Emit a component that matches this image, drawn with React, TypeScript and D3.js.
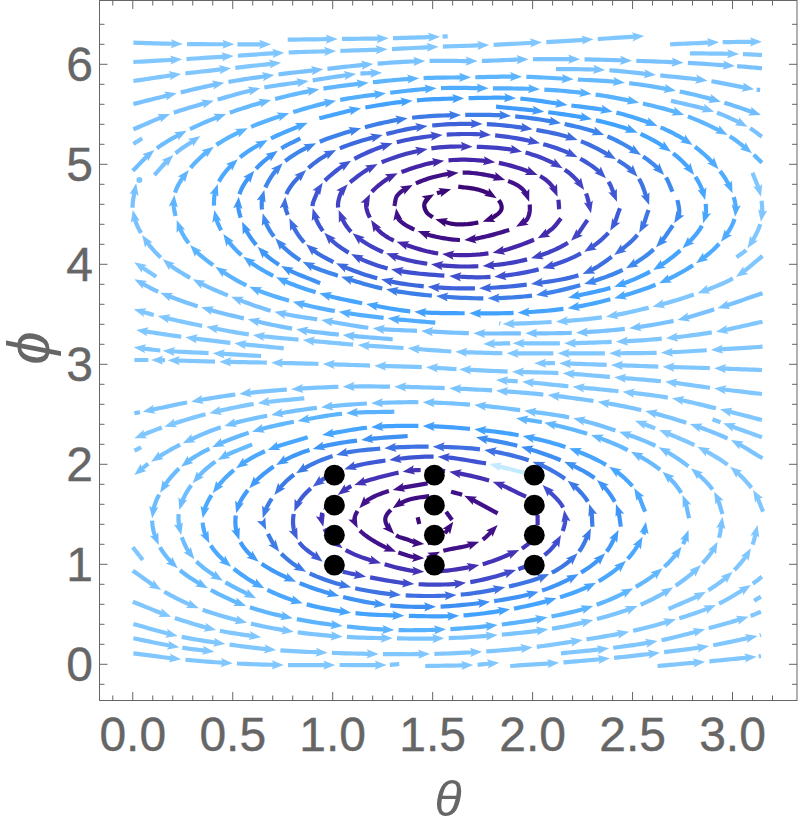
import { useMemo } from "react";
import * as d3 from "d3";

type Vertex = number[]; // [theta, phi] or [theta, phi, flag]
type Stream = { tone: number; pts: Vertex[] };

const P = 0; // curve passes through, no arrow break here
const T = 2; // line stops here without a head

const upperStreams: Stream[] = [
  { tone: 0, pts: [[0.003, 6.216], [0.25, 6.203], [0.508, 6.2], [0.692, 6.2]] },
  { tone: 0, pts: [[0.775, 6.246], [1.025, 6.253], [1.28, 6.26], [1.537, 6.276], [1.575, 6.28, T]] },
  { tone: 0, pts: [[0.003, 6.023], [0.247, 6.05], [0.505, 6.083], [0.758, 6.116], [1.017, 6.133], [1.275, 6.15], [1.53, 6.176], [1.783, 6.193], [2.047, 6.22], [2.305, 6.25], [2.558, 6.283]] },
  { tone: 0, pts: [[2.688, 6.2], [2.933, 6.22], [3.147, 6.226]] },
  { tone: 0, pts: [[2.787, 6.11], [3.033, 6.103], [3.147, 6.093, T]] },
  { tone: 0, pts: [[0.003, 5.833], [0.242, 5.903], [0.492, 5.96], [0.742, 6.016]] },
  { tone: 0.03, pts: [[0.003, 5.603], [0.22, 5.71], [0.458, 5.816], [0.708, 5.893], [0.953, 5.95], [1.203, 6.003], [1.463, 6.033], [1.725, 6.033], [1.98, 6.05], [2.238, 6.05], [2.497, 6.036], [2.755, 6.016], [3.012, 5.983], [3.147, 5.96, T]] },
  { tone: 0.03, pts: [[0.003, 5.35], [0.187, 5.503], [0.405, 5.636], [0.638, 5.76], [0.88, 5.833], [1.117, 5.903], [1.247, 5.916]] },
  { tone: 0.03, pts: [[2.117, 5.953], [2.363, 5.943], [2.617, 5.893], [2.875, 5.836], [3.108, 5.75], [3.138, 5.743, T]] },
  { tone: 0.06, pts: [[0, 4.936], [0.108, 5.143], [0.27, 5.336], [0.467, 5.503], [0.692, 5.643], [0.933, 5.75], [1.18, 5.816], [1.433, 5.86], [1.692, 5.87], [1.947, 5.876], [2.205, 5.85], [2.462, 5.816], [2.717, 5.736], [2.942, 5.626], [3.142, 5.493]] },
  { tone: 0, pts: [[0.003, 5.203], [0.047, 5.26, T]] },
  { tone: 0.12, pts: [[1.513, 3.416], [1.275, 3.46], [1.03, 3.526], [0.8, 3.626], [0.583, 3.776], [0.413, 3.976], [0.287, 4.193], [0.22, 4.443], [0.208, 4.693], [0.28, 4.943], [0.405, 5.176], [0.575, 5.36], [0.783, 5.51], [1.017, 5.636], [1.267, 5.71], [1.52, 5.76], [1.78, 5.76], [2.037, 5.75], [2.295, 5.703], [2.533, 5.616], [2.758, 5.493], [2.975, 5.293], [3.097, 5.11], [3.147, 5.016, T]] },
  { tone: 0.03, pts: [[0.108, 4.893], [0.203, 5.093], [0.338, 5.283]] },
  { tone: 0.03, pts: [[2.692, 5.636], [2.908, 5.526], [3.075, 5.376], [3.147, 5.276, T]] },
  { tone: 0.03, pts: [[3.15, 3.71], [2.925, 3.56], [2.725, 3.443], [2.483, 3.36], [2.217, 3.316], [1.963, 3.31], [1.703, 3.31], [1.442, 3.333], [1.2, 3.36], [0.942, 3.443], [0.708, 3.526], [0.492, 3.676], [0.3, 3.85], [0.15, 4.05], [0.047, 4.293], [0, 4.543], [0.017, 4.81]] },
  { tone: 0.03, pts: [[1.3, 3.25], [1.05, 3.293], [0.817, 3.35], [0.575, 3.45], [0.342, 3.57], [0.138, 3.716], [0.008, 3.85]] },
  { tone: 0, pts: [[0.117, 3.876], [0.008, 4.02]] },
  { tone: 0, pts: [[3.15, 3.426], [2.917, 3.326], [2.667, 3.26], [2.417, 3.226], [2.158, 3.21], [1.9, 3.21], [1.753, 3.203]] },
  { tone: 0, pts: [[0.642, 3.083], [0.4, 3.11], [0.15, 3.136], [0.005, 3.17]] },
  { tone: 0, pts: [[0.755, 3.16], [0.508, 3.21], [0.263, 3.27], [0.017, 3.343]] },
  { tone: 0, pts: [[3.15, 3.176], [2.892, 3.143], [2.642, 3.116], [2.383, 3.11], [2.125, 3.11], [1.87, 3.11], [1.613, 3.126], [1.375, 3.16], [1.125, 3.193], [0.85, 3.243], [0.6, 3.293], [0.367, 3.376], [0.125, 3.483], [0.005, 3.55]] },
  { tone: 0, pts: [[3.1, 4.916], [3.142, 4.676], [3.142, 4.426], [3.075, 4.16], [3.02, 4.07, T]] },
  { tone: 0, pts: [[3.15, 4.083], [3.017, 3.876], [2.825, 3.71], [2.6, 3.576], [2.367, 3.476], [2.117, 3.426], [1.85, 3.403], [1.833, 3.41, T]] },
  { tone: 0.2, pts: [[0.933, 5.46], [1.142, 5.56], [1.4, 5.636], [1.658, 5.66], [1.917, 5.66], [2.175, 5.593], [2.4, 5.526], [2.625, 5.383], [2.8, 5.193], [2.93, 4.95], [3, 4.71], [3.013, 4.476], [2.942, 4.226], [2.817, 4.01], [2.633, 3.81], [2.408, 3.66], [2.175, 3.56], [1.925, 3.516], [1.683, 3.51], [1.408, 3.526], [1.167, 3.603], [0.933, 3.71], [0.717, 3.87], [0.553, 4.076], [0.453, 4.303], [0.408, 4.543], [0.425, 4.803], [0.525, 5.05], [0.675, 5.243], [0.875, 5.416]] },
  { tone: 0.24, pts: [[1.817, 5.576], [2.058, 5.526], [2.297, 5.45], [2.525, 5.316], [2.692, 5.126], [2.808, 4.893], [2.863, 4.643], [2.853, 4.41], [2.75, 4.16], [2.603, 3.943], [2.408, 3.776], [2.178, 3.666]] },
  { tone: 0.36, pts: [[2.725, 4.643], [2.733, 4.51, P], [2.708, 4.41], [2.617, 4.17], [2.467, 3.96], [2.258, 3.803], [2.017, 3.693], [1.775, 3.66], [1.517, 3.683], [1.267, 3.75], [1.042, 3.876], [0.85, 4.026], [0.713, 4.26], [0.65, 4.51], [0.658, 4.743], [0.75, 5.01], [0.917, 5.21], [1.142, 5.36], [1.375, 5.46], [1.642, 5.493], [1.892, 5.483], [2.142, 5.41], [2.358, 5.293], [2.542, 5.093], [2.658, 4.893], [2.7, 4.726, T]] },
  { tone: 0.3, pts: [[0.937, 3.81], [0.742, 3.983], [0.625, 4.176], [0.547, 4.426], [0.53, 4.676], [0.608, 4.936], [0.725, 5.136], [0.838, 5.26, T]] },
  { tone: 0.44, pts: [[2.58, 4.543], [2.533, 4.316], [2.408, 4.093], [2.25, 3.903], [1.992, 3.803], [1.733, 3.76], [1.475, 3.776], [1.242, 3.85], [1.017, 4.01], [0.867, 4.2], [0.783, 4.46], [0.763, 4.676], [0.867, 4.943], [1.017, 5.143], [1.25, 5.293], [1.475, 5.383], [1.75, 5.403], [2, 5.35], [2.225, 5.243], [2.417, 5.05], [2.525, 4.876], [2.583, 4.593]] },
  { tone: 0.52, pts: [[2.437, 4.56], [2.388, 4.336], [2.258, 4.126], [2.05, 3.96], [1.808, 3.876], [1.583, 3.883], [1.292, 3.95], [1.092, 4.103], [0.958, 4.316], [0.9, 4.56], [0.917, 4.693, P], [0.95, 4.816], [1.092, 5.036], [1.3, 5.21], [1.55, 5.293], [1.792, 5.293], [2.037, 5.21], [2.225, 5.07], [2.367, 4.86], [2.422, 4.626]] },
  { tone: 0.6, pts: [[2.275, 4.443], [2.192, 4.236], [1.992, 4.06], [1.75, 3.983], [1.492, 4], [1.267, 4.11], [1.1, 4.31], [1.03, 4.543], [1.037, 4.693, P], [1.075, 4.8], [1.225, 5.003], [1.475, 5.153], [1.7, 5.176], [1.947, 5.126], [2.15, 4.96], [2.258, 4.743], [2.292, 4.51]] },
  { tone: 0.72, pts: [[2.142, 4.46], [2.1, 4.36, P], [2.025, 4.26], [1.8, 4.116], [1.547, 4.103], [1.32, 4.226], [1.24, 4.32, P], [1.192, 4.443], [1.167, 4.593, P], [1.187, 4.703], [1.25, 4.82, P], [1.325, 4.91], [1.558, 5.036], [1.813, 5.02], [2.025, 4.893], [2.09, 4.8, P], [2.125, 4.676], [2.133, 4.55, T]] },
  { tone: 0.85, pts: [[1.308, 4.583], [1.325, 4.693, P], [1.4, 4.793], [1.5, 4.87, P], [1.63, 4.916], [1.75, 4.9, P], [1.863, 4.843], [1.945, 4.76, P], [1.983, 4.626], [1.975, 4.46, P], [1.917, 4.376]] },
  { tone: 0.85, pts: [[1.883, 4.343], [1.77, 4.28, P], [1.658, 4.243], [1.53, 4.27, P], [1.425, 4.333], [1.333, 4.443, P], [1.317, 4.56]] },
  { tone: 1, pts: [[1.5, 4.47], [1.47, 4.52, P], [1.458, 4.593, P], [1.475, 4.66, P], [1.508, 4.7], [1.592, 4.75]] },
  { tone: 1, pts: [[1.628, 4.776], [1.73, 4.745, P], [1.82, 4.66], [1.845, 4.56, P], [1.81, 4.48, P], [1.75, 4.426], [1.62, 4.4, P], [1.513, 4.45]] },
];

const lowerStreams: Stream[] = [
  { tone: 0, pts: [[3.147, 2.943], [2.908, 2.96], [2.65, 2.976], [2.392, 2.993], [2.133, 3.01], [2.008, 3.01]] },
  { tone: 0, pts: [[3.147, 2.703], [2.908, 2.76], [2.663, 2.826], [2.408, 2.87], [2.15, 2.91], [1.897, 2.926], [1.633, 2.95], [1.467, 2.97], [1.208, 2.986], [0.95, 3.003], [0.692, 3.016], [0.433, 3.026], [0.175, 3.04], [0.092, 3.043], [0.008, 3.043, T]] },
  { tone: 0, pts: [[3.147, 2.443], [2.937, 2.55], [2.697, 2.66], [2.45, 2.726], [2.2, 2.776], [1.947, 2.826], [1.817, 2.843]] },
  { tone: 0.02, pts: [[3.15, 2.06], [2.992, 2.243], [2.787, 2.403], [2.563, 2.533], [2.325, 2.626], [2.075, 2.693], [1.817, 2.736], [1.583, 2.76], [1.308, 2.776], [1.05, 2.776], [0.792, 2.75], [0.533, 2.703], [0.292, 2.626], [0.05, 2.526], [0.008, 2.51, T]] },
  { tone: 0, pts: [[3.147, 2.27], [2.953, 2.41], [2.9, 2.45, T]] },
  { tone: 0, pts: [[0.858, 2.66], [0.625, 2.61], [0.383, 2.51], [0.158, 2.376], [0.008, 2.26]] },
  { tone: 0, pts: [[0.042, 2.17], [0.008, 2.136, T]] },
  { tone: 0.04, pts: [[2.95, 1.503], [2.908, 1.726], [2.792, 1.96], [2.63, 2.17], [2.433, 2.326], [2.203, 2.46], [1.958, 2.536], [1.708, 2.593], [1.45, 2.62], [1.192, 2.61], [0.942, 2.57], [0.692, 2.493], [0.458, 2.383], [0.25, 2.21], [0.092, 2.026], [0.008, 1.893]] },
  { tone: 0, pts: [[3.153, 1.526], [3.103, 1.743], [2.988, 1.976], [2.825, 2.176], [2.633, 2.343], [2.512, 2.436]] },
  { tone: 0.06, pts: [[2.783, 1.46], [2.75, 1.693], [2.65, 1.926], [2.492, 2.126], [2.292, 2.293], [2.058, 2.416], [1.917, 2.46]] },
  { tone: 0.2, pts: [[2.563, 1.526], [2.508, 1.76], [2.383, 1.976], [2.183, 2.16], [1.95, 2.283], [1.708, 2.35], [1.45, 2.383], [1.192, 2.37], [0.947, 2.293]] },
  { tone: 0.2, pts: [[0.875, 2.27], [0.675, 2.143], [0.517, 1.96], [0.4, 1.71], [0.35, 1.46], [0.383, 1.21], [0.492, 0.976], [0.658, 0.76], [0.85, 0.61], [1.092, 0.516], [1.358, 0.486], [1.633, 0.486], [1.887, 0.55], [2.12, 0.66], [2.317, 0.816], [2.467, 1.036], [2.55, 1.276], [2.567, 1.426]] },
  { tone: 0.3, pts: [[2.442, 1.376], [2.417, 1.603], [2.322, 1.843], [2.158, 2.026], [1.942, 2.176], [1.717, 2.27]] },
  { tone: 0.4, pts: [[2.3, 1.376], [2.283, 1.603], [2.175, 1.836], [2, 2.026], [1.758, 2.143], [1.5, 2.176], [1.258, 2.16], [1.017, 2.093], [0.817, 1.91], [0.708, 1.693], [0.65, 1.46], [0.667, 1.343], [0.733, 1.126], [0.867, 0.926], [1.092, 0.77], [1.342, 0.693], [1.62, 0.693], [1.863, 0.77], [2.083, 0.903], [2.225, 1.11], [2.292, 1.36]] },
  { tone: 0.28, pts: [[1.375, 2.283], [1.142, 2.243], [0.9, 2.153], [0.717, 1.993], [0.583, 1.76], [0.517, 1.51], [0.533, 1.243], [0.63, 1.026], [0.817, 0.826], [1.033, 0.683], [1.267, 0.593], [1.517, 0.576], [1.787, 0.626], [2.03, 0.726], [2.23, 0.903], [2.363, 1.11], [2.43, 1.343]] },
  { tone: 0.08, pts: [[1.308, 2.526], [1.067, 2.51], [0.825, 2.433], [0.597, 2.326], [0.397, 2.17], [0.242, 1.976], [0.137, 1.716], [0.097, 1.46], [0.13, 1.193], [0.225, 0.96], [0.375, 0.76], [0.567, 0.583], [0.8, 0.46], [1.05, 0.383], [1.308, 0.343], [1.567, 0.35], [1.825, 0.393], [2.075, 0.47], [2.303, 0.583], [2.503, 0.76], [2.65, 0.96], [2.745, 1.176], [2.78, 1.343]] },
  { tone: 0.06, pts: [[0.597, 2.2], [0.425, 2.043], [0.3, 1.81], [0.233, 1.543], [0.242, 1.293], [0.308, 1.05], [0.45, 0.836], [0.617, 0.66]] },
  { tone: 0.02, pts: [[0, 0.936], [0.142, 0.743], [0.33, 0.56], [0.572, 0.416], [0.805, 0.326], [1.05, 0.276], [1.3, 0.26], [1.558, 0.26], [1.825, 0.293], [2.078, 0.35], [2.303, 0.443], [2.525, 0.583], [2.703, 0.77], [2.842, 0.993], [2.925, 1.226], [2.95, 1.476]] },
  { tone: 0, pts: [[0, 0.626], [0.192, 0.476], [0.417, 0.343], [0.642, 0.27]] },
  { tone: 0, pts: [[0.003, 0.403], [0.225, 0.283], [0.463, 0.203], [0.717, 0.143], [0.975, 0.116], [1.23, 0.103], [1.487, 0.103], [1.747, 0.126], [2, 0.17], [2.25, 0.243], [2.483, 0.326], [2.717, 0.45], [2.917, 0.593], [3.092, 0.793], [3.147, 0.876, T]] },
  { tone: 0, pts: [[0.003, 0.26], [0.233, 0.17], [0.408, 0.126]] },
  { tone: 0, pts: [[0.003, 0.11], [0.242, 0.05], [0.5, 0.01], [0.755, -0.007], [1.013, -0.007], [1.27, -0.007], [1.333, 0.003, T]] },
  { tone: 0, pts: [[1.463, -0.017], [1.703, -0.007], [1.833, 0.016]] },
  { tone: 0, pts: [[1.888, -0.017], [2.133, 0.016], [2.387, 0.06], [2.637, 0.116], [2.883, 0.183], [3.125, 0.283], [3.142, 0.293, T]] },
  { tone: 0, pts: [[2.142, 0.11], [2.383, 0.16], [2.625, 0.233], [2.863, 0.35], [3.08, 0.476], [3.142, 0.526, T]] },
  { tone: 0, pts: [[2.625, -0.017], [2.863, 0.026], [3.12, 0.076], [3.142, 0.083, T]] },
  { tone: 0, pts: [[3.108, 0.636], [3.142, 0.676, T]] },
  { tone: 0, pts: [[2.68, 0.553], [2.867, 0.726], [3, 0.926], [3.092, 1.16], [3.125, 1.393]] },
  { tone: 0, pts: [[0, 1.17], [0.05, 1.043, T]] },
  { tone: 0.5, pts: [[1.767, 2.01], [1.525, 2.076], [1.283, 2.043], [1.058, 1.95], [0.9, 1.776], [0.808, 1.526], [0.825, 1.243], [0.95, 1.026]] },
  { tone: 0.55, pts: [[1.05, 0.926], [1.167, 0.876], [1.408, 0.803], [1.667, 0.816], [1.917, 0.943], [2.05, 1.076], [2.142, 1.293], [2.158, 1.543], [2.05, 1.793]] },
  { tone: 0.66, pts: [[1.967, 1.676], [1.8, 1.826], [1.583, 1.926], [1.458, 1.943], [1.35, 1.926], [1.108, 1.793], [1.025, 1.693], [0.953, 1.543], [0.953, 1.376], [1.05, 1.16], [1.242, 1.01], [1.458, 0.926], [1.733, 0.993], [1.933, 1.143], [1.983, 1.21, T]] },
  { tone: 0.66, pts: [[2.025, 1.393], [2.025, 1.493, T]] },
  { tone: 0.85, pts: [[1.825, 1.51], [1.658, 1.686], [1.592, 1.726, T]] },
  { tone: 0.85, pts: [[1.475, 1.81], [1.3, 1.743], [1.19, 1.66, P], [1.133, 1.56], [1.108, 1.443, P], [1.125, 1.36], [1.2, 1.24, P], [1.317, 1.126], [1.458, 1.06], [1.537, 1.126], [1.733, 1.226], [1.825, 1.393]] },
  { tone: 0.88, pts: [[1.483, 1.683], [1.38, 1.645, P], [1.3, 1.56], [1.263, 1.443, P], [1.308, 1.303], [1.37, 1.25, P], [1.458, 1.203], [1.55, 1.293], [1.603, 1.426]] },
  { tone: 0.85, pts: [[1.567, 1.526], [1.597, 1.443, T]] },
  { tone: 0.95, pts: [[1.425, 1.47], [1.433, 1.403, T]] },
];

const paleStreams: Stream[] = [{ tone: 0, pts: [[1.958, 1.916], [1.783, 2.003]] }];

const seedDots = [[0.033, 4.843]];

const thetaPoints = [1, 1.5, 2];
const phiPoints = [1, 1.3, 1.6, 1.9];

const thetaLabels = [0, 0.5, 1, 1.5, 2, 2.5, 3];
const phiLabels = [0, 1, 2, 3, 4, 5, 6];

const toneStops = ["#80c6ff", "#5db5ff", "#42a2ff", "#3d82ea", "#3f58d6", "#4238bb", "#471c9e", "#3b0878"];

const W = 800;
const H = 828;
const left = 99.5;
const right = 797;
const top = 0.5;
const bottom = 700.5;
const AXIS = "#666666";

const x = d3.scaleLinear().domain([-0.1665, 3.3225]).range([left, right]);
const y = d3.scaleLinear().domain([-0.362, 6.638]).range([bottom, top]);
const toneScale = d3.scaleLinear<string>().domain(d3.range(toneStops.length).map((i) => i / (toneStops.length - 1))).range(toneStops);
const line = d3.line();

type Pt = [number, number];
type Piece = { d: string; head: string | null; theta: number };

// splits a stream at its arrow tips and gives each piece a stem and a head
const buildPieces = (pts: Vertex[]): Piece[] => {
  const px: Pt[] = pts.map((p) => [x(p[0]), y(p[1])]);
  const tangents = px.map((p, i) => {
    const a = px[Math.max(i - 1, 0)];
    const b = px[Math.min(i + 1, px.length - 1)];
    const len = Math.hypot(b[0] - a[0], b[1] - a[1]) || 1;
    return [(b[0] - a[0]) / len, (b[1] - a[1]) / len];
  });
  const pieces: Piece[] = [];
  let current: Pt[] = [px[0]];
  const finish = (withHead: boolean) => {
    let samples = current.slice();
    // small gap after the previous tip
    if (pieces.length) {
      const s = samples[0];
      samples = samples.filter((q, i) => i === samples.length - 1 || Math.hypot(q[0] - s[0], q[1] - s[1]) > 2.2);
    }
    const tip = samples[samples.length - 1];
    let head: string | null = null;
    let stem = samples;
    if (withHead) {
      const back = samples.filter((q) => Math.hypot(q[0] - tip[0], q[1] - tip[1]) > 7);
      const ref = back.length ? back[back.length - 1] : samples[0];
      const a = Math.atan2(tip[1] - ref[1], tip[0] - ref[0]);
      const L = 12;
      const w = 4.6;
      const at = (u: number, v: number): Pt => [
        tip[0] - u * Math.cos(a) - v * Math.sin(a),
        tip[1] - u * Math.sin(a) + v * Math.cos(a),
      ];
      head = line([tip, at(L, w), at(L * 0.8, 0), at(L, -w)]) + "Z";
      stem = [...back, at(L * 0.7, 0)];
    }
    const mid = samples[Math.floor(samples.length / 2)];
    pieces.push({ d: line(stem) || "", head, theta: x.invert(mid[0]) });
  };
  for (let i = 0; i < px.length - 1; i++) {
    const a = px[i];
    const b = px[i + 1];
    const h = Math.hypot(b[0] - a[0], b[1] - a[1]) / 3;
    const c1 = [a[0] + tangents[i][0] * h, a[1] + tangents[i][1] * h];
    const c2 = [b[0] - tangents[i + 1][0] * h, b[1] - tangents[i + 1][1] * h];
    for (let k = 1; k <= 12; k++) {
      const t = k / 12;
      const u = 1 - t;
      current.push([
        u * u * u * a[0] + 3 * u * u * t * c1[0] + 3 * u * t * t * c2[0] + t * t * t * b[0],
        u * u * u * a[1] + 3 * u * u * t * c1[1] + 3 * u * t * t * c2[1] + t * t * t * b[1],
      ]);
    }
    const flag = pts[i + 1][2];
    if (flag === P) continue;
    finish(flag !== T);
    current = [b];
  }
  return pieces;
};

const colorFor = (tone: number, theta: number) => {
  const closeness = 1 - Math.min(Math.abs(theta - Math.PI / 2) / (Math.PI / 2), 1);
  return toneScale(tone > 0.05 ? Math.min(tone + 0.1 * closeness, 1) : tone);
};

const App = () => {
  const pieces = useMemo(
    () =>
      [...upperStreams, ...lowerStreams].flatMap((s) =>
        buildPieces(s.pts).map((p) => ({ ...p, color: colorFor(s.tone, p.theta) }))
      ),
    []
  );
  const pale = useMemo(() => paleStreams.flatMap((s) => buildPieces(s.pts)), []);

  const xMinor = d3.range(-1, 33).map((i) => i / 10).filter((v) => x(v) > left);
  const yMinor = d3.range(-1, 33).map((i) => i / 5).filter((v) => y(v) > top + 1);

  return (
    <svg width={W} height={H} style={{ position: "absolute", left: 0, top: 0, background: "#fff" }}>
      {pieces.map((p, i) => (
        <g key={i}>
          <path d={p.d} fill="none" stroke={p.color} strokeWidth={4.2} />
          {p.head && <path d={p.head} fill={p.color} />}
        </g>
      ))}
      {pale.map((p, i) => (
        <g key={i}>
          <path d={p.d} fill="none" stroke="#c4eaff" strokeWidth={4.2} />
          {p.head && <path d={p.head} fill="#c4eaff" />}
        </g>
      ))}
      {seedDots.map((d, i) => (
        <circle key={i} cx={x(d[0])} cy={y(d[1])} r={3} fill="#80c6ff" />
      ))}
      <g transform="translate(1.7,0.9)">
        {thetaPoints.flatMap((t) =>
          phiPoints.map((f) => <circle key={`${t}-${f}`} cx={x(t)} cy={y(f)} r={10.4} fill="#000" />)
        )}
      </g>

      <rect x={left} y={top} width={right - left} height={bottom - top} fill="none" stroke={AXIS} strokeWidth={1} />
      {xMinor.map((v) => {
        const major = Math.abs(v * 2 - Math.round(v * 2)) < 1e-6;
        const len = major ? 8.5 : 5;
        return (
          <g key={v} stroke={AXIS} strokeWidth={1}>
            <line x1={x(v)} x2={x(v)} y1={bottom} y2={bottom - len} />
            <line x1={x(v)} x2={x(v)} y1={top} y2={top + len} />
          </g>
        );
      })}
      {yMinor.map((v) => {
        const major = Math.abs(v - Math.round(v)) < 1e-6;
        const len = major ? 8 : 5;
        return (
          <g key={v} stroke={AXIS} strokeWidth={1}>
            <line x1={left} x2={left + len} y1={y(v)} y2={y(v)} />
            <line x1={right} x2={right - len} y1={y(v)} y2={y(v)} />
          </g>
        );
      })}

      <g fontFamily="'Liberation Sans', Arial, sans-serif" fontSize={48} fill={AXIS} stroke={AXIS} strokeWidth={0.4}>
        {thetaLabels.map((v) => (
          <text key={v} x={x(v)} y={751} textAnchor="middle">
            {v.toFixed(1)}
          </text>
        ))}
        {phiLabels.map((v) => (
          <text key={v} x={93} y={y(v) + 17} textAnchor="end">
            {v}
          </text>
        ))}
      </g>
      <text x={448} y={816} textAnchor="middle" fontFamily="'Liberation Sans', sans-serif" fontStyle="italic" fontSize={50} fill={AXIS}>
        θ
      </text>
      <text
        transform="translate(49,348) rotate(-90)"
        textAnchor="middle"
        fontFamily="'Liberation Sans', sans-serif"
        fontStyle="italic"
        fontSize={60}
        fill={AXIS}
      >
        ϕ
      </text>
    </svg>
  );
};

export default App;
